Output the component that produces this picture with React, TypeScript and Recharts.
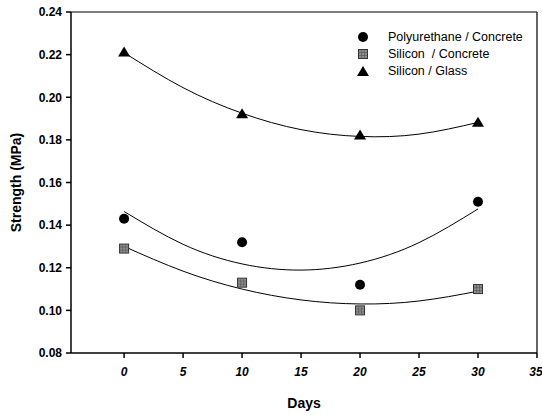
import React from "react";
import {
  ComposedChart,
  Scatter,
  Line,
  XAxis,
  YAxis,
  ReferenceLine,
} from "recharts";

// measured points (days vs strength)
const days = [0, 10, 20, 30];
const polyConcrete = [0.143, 0.132, 0.112, 0.151];
const siliconConcrete = [0.129, 0.113, 0.1, 0.11];
const siliconGlass = [0.221, 0.192, 0.182, 0.188];

// trend curves
const curveDays = [0, 5, 10, 15, 20, 25, 30];
const polyConcreteCurve = [0.1464, 0.131, 0.1218, 0.1189, 0.1222, 0.1318, 0.1476];
const siliconConcreteCurve = [0.13, 0.1184, 0.11, 0.1049, 0.103, 0.1044, 0.109];
const siliconGlassCurve = [0.2209, 0.2045, 0.1925, 0.1848, 0.1816, 0.1827, 0.1882];

const xTicks = [0, 5, 10, 15, 20, 25, 30, 35];
const yTicks = [0.08, 0.1, 0.12, 0.14, 0.16, 0.18, 0.2, 0.22, 0.24];

const legendItems = [
  { name: "Polyurethane / Concrete", shape: "circle" },
  { name: "Silicon  / Concrete", shape: "square" },
  { name: "Silicon / Glass", shape: "triangle" },
];

const toPoints = (ys: number[]) => days.map((d, i) => ({ x: d, y: ys[i] }));
const toCurve = (ys: number[]) => curveDays.map((d, i) => ({ x: d, y: ys[i] }));

const FONT = "Arial, 'Liberation Sans', sans-serif";

const Circle = (props: any) => <circle cx={props.cx} cy={props.cy} r={5} fill="#000" />;

const Square = (props: any) => {
  const { cx, cy } = props;
  return (
    <g>
      <rect x={cx - 4.5} y={cy - 4.5} width={9} height={9} fill="#8c8c8c" stroke="#333" strokeWidth={1} />
      <path
        d={`M${cx - 1.5},${cy - 4} V${cy + 4} M${cx + 1.5},${cy - 4} V${cy + 4} M${cx - 4},${cy - 1.5} H${cx + 4} M${cx - 4},${cy + 1.5} H${cx + 4}`}
        stroke="#555"
        strokeWidth={0.6}
      />
    </g>
  );
};

const Triangle = (props: any) => {
  const { cx, cy } = props;
  return <path d={`M${cx},${cy - 6} L${cx + 6},${cy + 4} L${cx - 6},${cy + 4} Z`} fill="#000" />;
};

// legend sits inside the plot, top right
const LegendBox = () => (
  <div style={{ position: "absolute", left: 356, top: 28, fontFamily: FONT, fontSize: 12.5, color: "#000" }}>
    {legendItems.map((it) => (
      <div key={it.name} style={{ display: "flex", alignItems: "center", height: 17, whiteSpace: "pre" }}>
        <svg width={32} height={14}>
          {it.shape === "circle" && <Circle cx={7} cy={7} />}
          {it.shape === "square" && <Square cx={7} cy={7} />}
          {it.shape === "triangle" && <Triangle cx={7} cy={8} />}
        </svg>
        <span>{it.name}</span>
      </div>
    ))}
  </div>
);

export default function App() {
  return (
    <div style={{ position: "absolute", left: 0, top: 0, width: 542, height: 415, background: "#fff" }}>
      <ComposedChart width={542} height={415} margin={{ top: 12, right: 5, bottom: 0, left: 0 }}>
        <XAxis
          type="number"
          dataKey="x"
          domain={[-4.5, 35]}
          allowDataOverflow
          ticks={xTicks}
          height={62}
          tickSize={5}
          tickMargin={9}
          stroke="#000"
          strokeWidth={1.5}
          tick={{ fill: "#000", fontSize: 12, fontWeight: "bold", fontStyle: "italic", fontFamily: FONT }}
          label={{
            value: "Days",
            position: "insideBottom",
            offset: 7,
            style: { fill: "#000", fontSize: 14, fontWeight: "bold", fontFamily: FONT },
          }}
        />
        <YAxis
          type="number"
          dataKey="y"
          domain={[0.08, 0.24]}
          ticks={yTicks}
          width={71}
          tickSize={5}
          tickMargin={4}
          stroke="#000"
          strokeWidth={1.5}
          tickFormatter={(v: number) => v.toFixed(2)}
          tick={{ fill: "#000", fontSize: 12, fontWeight: "bold", fontFamily: FONT }}
          label={{
            value: "Strength (MPa)",
            angle: -90,
            position: "insideLeft",
            offset: 16,
            style: { fill: "#000", fontSize: 14, fontWeight: "bold", fontFamily: FONT, textAnchor: "middle" },
          }}
        />
        <ReferenceLine y={0.24} stroke="#000" strokeWidth={1.2} />
        <ReferenceLine x={35} stroke="#000" strokeWidth={1.2} />
        <Line data={toCurve(polyConcreteCurve)} dataKey="y" type="natural" stroke="#000" strokeWidth={1} dot={false} isAnimationActive={false} />
        <Line data={toCurve(siliconConcreteCurve)} dataKey="y" type="natural" stroke="#000" strokeWidth={1} dot={false} isAnimationActive={false} />
        <Line data={toCurve(siliconGlassCurve)} dataKey="y" type="natural" stroke="#000" strokeWidth={1} dot={false} isAnimationActive={false} />
        <Scatter data={toPoints(polyConcrete)} shape={<Circle />} isAnimationActive={false} />
        <Scatter data={toPoints(siliconConcrete)} shape={<Square />} isAnimationActive={false} />
        <Scatter data={toPoints(siliconGlass)} shape={<Triangle />} isAnimationActive={false} />
      </ComposedChart>
      <LegendBox />
    </div>
  );
}
